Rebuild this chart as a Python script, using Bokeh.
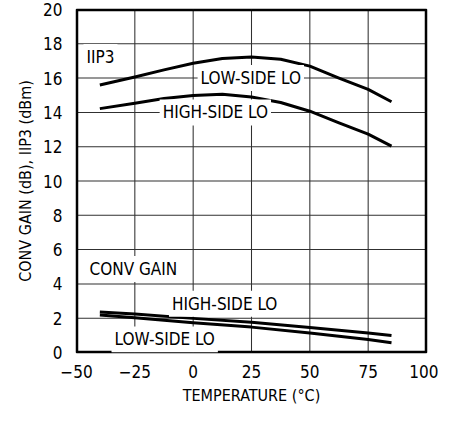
from bokeh.plotting import figure
from bokeh.models import FixedTicker, Range1d
from bokeh.core.properties import value
from bokeh.embed import file_html
from bokeh.resources import INLINE

FONT = "Liberation Sans Narrow, Arial Narrow, DejaVu Sans Condensed, sans-serif"

# temperatures (°C)
temp = [-40, -25, -12.5, 0, 12.5, 25, 37.5, 50, 62.5, 75, 85]
iip3_low = [15.60, 16.06, 16.48, 16.87, 17.14, 17.23, 17.10, 16.70, 16.00, 15.34, 14.62]
iip3_high = [14.22, 14.53, 14.81, 14.98, 15.06, 14.90, 14.58, 14.07, 13.39, 12.73, 12.03]
gain_temp = [-40, -25, 0, 25, 50, 75, 85]
gain_high = [2.36, 2.25, 1.99, 1.76, 1.46, 1.14, 0.99]
gain_low = [2.18, 2.03, 1.74, 1.48, 1.14, 0.76, 0.57]

x_ticks = [-50, -25, 0, 25, 50, 75, 100]
y_ticks = [0, 2, 4, 6, 8, 10, 12, 14, 16, 18, 20]

x0, x1 = x_ticks[0], x_ticks[-1]
y0, y1 = y_ticks[0], y_ticks[-1]

p = figure(width=438, height=407, output_backend="svg", toolbar_location=None,
           x_range=Range1d(x0, x1), y_range=Range1d(y0, y1),
           min_border_left=76, min_border_right=12, min_border_top=9, min_border_bottom=50)
p.outline_line_color = "black"
p.outline_line_width = 1.5
p.grid.visible = False

for ax in (p.xaxis[0], p.yaxis[0]):
    ax.major_tick_line_color = None
    ax.minor_tick_line_color = None
    ax.axis_line_color = None
    ax.major_label_text_font = FONT
    ax.major_label_text_font_size = "17px"
    ax.major_label_text_color = "black"
    ax.axis_label_text_font = FONT
    ax.axis_label_text_font_size = "16px"
    ax.axis_label_text_font_style = "normal"
    ax.axis_label_text_color = "black"

p.xaxis.ticker = FixedTicker(ticks=x_ticks)
p.yaxis.ticker = FixedTicker(ticks=y_ticks)
p.xaxis.major_label_overrides = {-50: "\u221250", -25: "\u221225"}
p.xaxis.axis_label = "TEMPERATURE (\u00b0C)"
p.yaxis.axis_label = "CONV GAIN (dB), IIP3 (dBm)"
p.xaxis.major_label_standoff = 6
p.yaxis.major_label_standoff = 8

# grid lines as thin filled bars at the tick positions
p.vbar(x=x_ticks[1:-1], width=0.45, bottom=y0, top=y1,
       fill_color="#303030", line_color=None)
p.hbar(y=y_ticks[1:-1], height=0.06, left=x0, right=x1,
       fill_color="#303030", line_color=None)
# frame edges (half of each bar falls inside the frame)
p.vbar(x=[x0, x1], width=1.5, bottom=y0, top=y1, fill_color="black", line_color=None)
p.hbar(y=[y0, y1], height=0.2, left=x0, right=x1, fill_color="black", line_color=None)

for ys, xs in ((iip3_low, temp), (iip3_high, temp), (gain_high, gain_temp), (gain_low, gain_temp)):
    p.line(xs, ys, line_color="black", line_width=3, line_join="round", line_cap="butt")

label_text = ["LOW-SIDE LO", "HIGH-SIDE LO", "HIGH-SIDE LO", "LOW-SIDE LO"]
label_x = [24.7, 9.5, 13.5, -12.2]
label_y = [16.0, 14.0, 2.84, 0.76]
p.text(x=label_x, y=label_y, text=label_text, text_font=value(FONT), text_font_size="17px",
       text_color="black", text_align="center", text_baseline="middle",
       background_fill_color="white", padding=3)

head_text = ["IIP3", "CONV GAIN"]
head_x = [-47, -45.7]
head_y = [17.23, 4.87]
p.text(x=head_x, y=head_y, text=head_text, text_font=value(FONT), text_font_size="17px",
       text_color="black", text_align="left", text_baseline="middle",
       background_fill_color="white", padding=3)

open("out.html", "w").write(file_html(p, INLINE))
